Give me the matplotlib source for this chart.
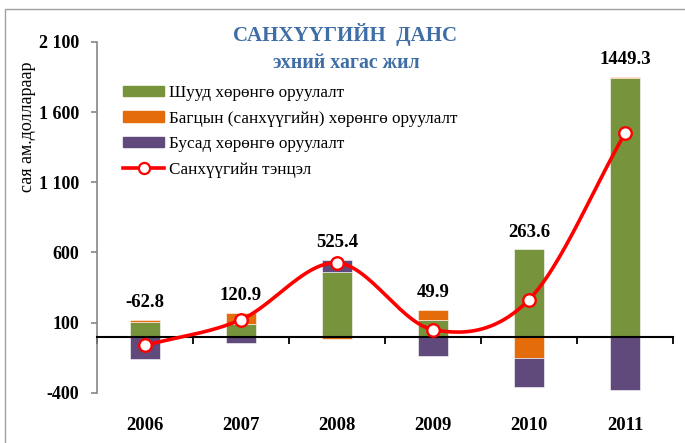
import numpy as np
import matplotlib
matplotlib.use('Agg')
import matplotlib.pyplot as plt
from matplotlib.patches import Rectangle, Patch
from matplotlib.lines import Line2D
from matplotlib.transforms import blended_transform_factory

plt.rcParams['font.family'] = ['Liberation Serif', 'DejaVu Serif']

# Data (million USD, first half of year)
years = ['2006', '2007', '2008', '2009', '2010', '2011']
direct = [102, 90, 464, 119, 621, 1840]        # Шууд хөрөнгө оруулалт
portfolio = [17, 76, -16, 71, -151, 14]        # Багцын хөрөнгө оруулалт
other = [-163, -43, 83, -140, -209, -383]      # Бусад хөрөнгө оруулалт
balance = [-62.8, 120.9, 525.4, 49.9, 263.6, 1449.3]

C_GREEN = '#77933C'
C_ORANGE = '#E46C0A'
C_PURPLE = '#604A7B'
C_RED = '#FF0000'
C_TITLE = '#3F6EA6'
C_AXIS = '#868686'

fig = plt.figure(figsize=(6.85, 4.43), dpi=100)
ax = fig.add_axes([0.1416, 0.1135, 0.8409, 0.7917])
fig.patches.append(Rectangle((5 / 685, -0.05), 1.2, 1 - 9 / 443 + 0.05, transform=fig.transFigure,
                             fill=False, ec='#A0A0A0', lw=1.0))

x = np.arange(len(years))
bw = 0.31

# stacked bars: positives stack up, negatives stack down
pos_base = np.zeros(len(years))
neg_base = np.zeros(len(years))
for vals, col in [(direct, C_GREEN), (portfolio, C_ORANGE), (other, C_PURPLE)]:
    v = np.array(vals, dtype=float)
    bottoms = np.where(v >= 0, pos_base, neg_base)
    ax.bar(x, v, bw, bottom=bottoms, color=col, ec='white', lw=0.4, zorder=2)
    pos_base = pos_base + np.clip(v, 0, None)
    neg_base = neg_base + np.clip(v, None, 0)

# smoothed balance line (Catmull-Rom through the points, like Excel smoothing)
def smooth(xs, ys, n=30):
    xs = np.asarray(xs, float)
    ys = np.asarray(ys, float)
    px = np.concatenate([[2 * xs[0] - xs[1]], xs, [2 * xs[-1] - xs[-2]]])
    py = np.concatenate([[2 * ys[0] - ys[1]], ys, [2 * ys[-1] - ys[-2]]])
    ox, oy = [], []
    t = np.linspace(0, 1, n)
    for i in range(1, len(px) - 2):
        for arr, out in [(px, ox), (py, oy)]:
            p0, p1, p2, p3 = arr[i - 1], arr[i], arr[i + 1], arr[i + 2]
            seg = 0.5 * ((2 * p1) + (-p0 + p2) * t + (2 * p0 - 5 * p1 + 4 * p2 - p3) * t ** 2
                         + (-p0 + 3 * p1 - 3 * p2 + p3) * t ** 3)
            out.extend(seg)
    return np.array(ox), np.array(oy)

sx, sy = smooth(x, balance)
ax.plot(sx, sy, color=C_RED, lw=2.6, zorder=4, solid_capstyle='round')
ax.plot(x, balance, 'o', ms=9, mfc='white', mec=C_RED, mew=1.7, zorder=5)

# value labels above the stack
for xi, top, b in zip(x, pos_base, balance):
    ax.annotate(f'{b:.1f}', (xi, top), xytext=(0, 12.5), textcoords='offset points',
                ha='center', va='center', fontsize=13.5, fontweight='bold')

# axes styling
ax.set_xlim(-0.5, len(years) - 0.5)
ax.set_ylim(-400, 2100)
ax.set_yticks([-400, 100, 600, 1100, 1600, 2100])
ax.set_yticklabels(['-400', '100', '600', '1 100', '1 600', '2 100'],
                   fontsize=13, fontweight='bold')
ax.tick_params(axis='y', colors=C_AXIS, length=4, width=1.2, labelcolor='black', pad=9)
for s in ['top', 'right']:
    ax.spines[s].set_visible(False)
ax.spines['left'].set_color(C_AXIS)
ax.spines['left'].set_linewidth(1.2)
ax.spines['bottom'].set_position(('data', 0))
ax.spines['bottom'].set_color('black')
ax.spines['bottom'].set_linewidth(1.5)
ax.set_xticks(np.arange(len(years) + 1) - 0.5)
ax.set_xticklabels([])
ax.tick_params(axis='x', direction='out', length=5, width=1.3, color='black')

trans = blended_transform_factory(ax.transData, fig.transFigure)
for xi, yr in zip(x, years):
    ax.text(xi, 1 - 425 / 443, yr, transform=trans, ha='center', va='center',
            fontsize=13.5, fontweight='bold')

fig.text(27 / 685, 1 - 127 / 443, 'сая ам.доллараар', rotation=90, ha='center', va='center',
         fontsize=13)

fig.text(345 / 685, 1 - 34.5 / 443, 'САНХҮҮГИЙН  ДАНС', ha='center', va='center',
         fontsize=15, fontweight='bold', color=C_TITLE)
fig.text(346 / 685, 1 - 63 / 443, 'эхний хагас жил', ha='center', va='center',
         fontsize=14.3, fontweight='bold', color=C_TITLE)

handles = [
    Patch(color=C_GREEN),
    Patch(color=C_ORANGE),
    Patch(color=C_PURPLE),
    Line2D([], [], color=C_RED, lw=2.6, marker='o', ms=8, mfc='white', mec=C_RED, mew=1.6),
]
labels = ['Шууд хөрөнгө оруулалт', 'Багцын (санхүүгийн) хөрөнгө оруулалт',
          'Бусад хөрөнгө оруулалт', 'Санхүүгийн тэнцэл']
fig.legend(handles, labels, loc='upper left', bbox_to_anchor=(123 / 685, 1 - 85 / 443),
           frameon=False, fontsize=12.3, handlelength=2.4, handleheight=0.55,
           handletextpad=0.3, labelspacing=0.56, borderaxespad=0, borderpad=0)

fig.savefig('out.png', dpi=100)
